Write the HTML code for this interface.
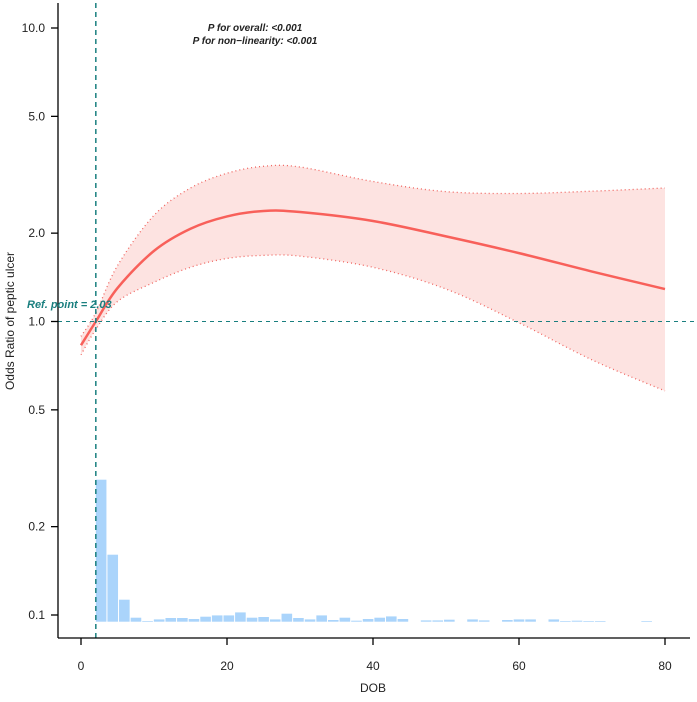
<!DOCTYPE html>
<html><head><meta charset="utf-8"><style>
body{margin:0;background:#fff}
svg text{font-family:"Liberation Sans",sans-serif}
</style></head><body>
<svg id="c" width="697" height="697" viewBox="0 0 697 697" xmlns="http://www.w3.org/2000/svg"></svg>
<script>
const xTicks=[0,20,40,60,80];
const yTicks=[0.1,0.2,0.5,1.0,2.0,5.0,10.0];
const yTickLabels=["0.1","0.2","0.5","1.0","2.0","5.0","10.0"];
const curveX=[0,2.03,5,10,15,20,25,30,40,50,60,70,80];
const curveOR=[0.83,1.0,1.3,1.74,2.07,2.28,2.38,2.36,2.2,1.95,1.71,1.48,1.29];
const upperOR=[0.89,1.07,1.55,2.3,2.85,3.2,3.38,3.36,3.0,2.77,2.73,2.78,2.85];
const lowerOR=[0.77,0.94,1.17,1.36,1.53,1.64,1.68,1.67,1.53,1.29,0.99,0.74,0.58];
const histStart=2.03, histBin=1.59;
const histCounts=[142,67,22,4,0.7,2.3,3.7,3.7,2.7,5,6.3,6.3,9.3,4,4.7,2.3,8,3.7,2.3,6.3,1.7,4,1,2.7,4,5.3,2.7,0,1.3,1.3,2,0,2.3,1.3,0,1.7,2.3,2.3,0,2.3,0.7,1,0.7,0.7,0,0,0,0.7];
const refX=2.03, refOR=1.0;

const NS="http://www.w3.org/2000/svg";
const svg=document.getElementById('c');
const X=v=>81+v*7.3;
const Y=v=>615-293.5*(Math.log10(v)+1);
const baseY=621.7, histMaxPx=142;
function el(t,a,p){const e=document.createElementNS(NS,t);for(const k in a)e.setAttribute(k,a[k]);(p||svg).appendChild(e);return e;}

const maxC=Math.max(...histCounts);
histCounts.forEach((c,i)=>{if(c<=0)return;const h=c/maxC*histMaxPx;
const r=el('rect',{x:X(histStart+i*histBin),y:baseY-h,width:histBin*7.3-1,height:h,fill:'#aad4fb'});

});

function pts(arr){return curveX.map((x,i)=>[X(x),Y(arr[i])]);}
function smooth(p){let d='M'+p[0][0]+','+p[0][1];for(let i=0;i<p.length-1;i++){const p0=p[i-1]||p[i],p1=p[i],p2=p[i+1],p3=p[i+2]||p2;
d+=' C'+(p1[0]+(p2[0]-p0[0])/6)+','+(p1[1]+(p2[1]-p0[1])/6)+' '+(p2[0]-(p3[0]-p1[0])/6)+','+(p2[1]-(p3[1]-p1[1])/6)+' '+p2[0]+','+p2[1];}return d;}
function smoothRev(p){return smooth(p.slice().reverse()).replace('M','L');}
const up=pts(upperOR), lo=pts(lowerOR), mid=pts(curveOR);
const band=el('path',{d:smooth(up)+' '+smoothRev(lo)+' Z',fill:'#fde3e1',stroke:'none'});


const u=el('path',{d:smooth(up),fill:'none',stroke:'#f06560','stroke-width':1.3,'stroke-dasharray':'1 3'});


const l=el('path',{d:smooth(lo),fill:'none',stroke:'#f06560','stroke-width':1.3,'stroke-dasharray':'1 3'});


const m=el('path',{d:smooth(mid),fill:'none',stroke:'#f8605a','stroke-width':2.5});



const rh=el('line',{x1:58,x2:697,y1:Y(refOR),y2:Y(refOR),stroke:'#1a7f7f','stroke-width':1,'stroke-dasharray':'4 4'});


const rv=el('line',{x1:X(refX),x2:X(refX),y1:3,y2:638,stroke:'#1a7f7f','stroke-width':1.5,'stroke-dasharray':'5 4'});



const g=el('g',{stroke:'#000','stroke-width':1.3});


el('line',{x1:58,x2:58,y1:3,y2:638},g);
el('line',{x1:58,x2:690,y1:638,y2:638},g);
xTicks.forEach(t=>{el('line',{x1:X(t),x2:X(t),y1:638,y2:645},g);
const tx=el('text',{x:X(t),y:670,'text-anchor':'middle','font-size':12,fill:'#222',stroke:'none'});tx.textContent=t;

});
yTicks.forEach((t,i)=>{el('line',{x1:51,x2:58,y1:Y(t),y2:Y(t)},g);
const tx=el('text',{x:45,y:Y(t)+4,'text-anchor':'end','font-size':12,fill:'#222',stroke:'none'});tx.textContent=yTickLabels[i];

});
</script>
<svg width="697" height="697" style="position:absolute;left:0;top:0">
<text x="373" y="692" text-anchor="middle" font-size="12" fill="#222" font-family="Liberation Sans">DOB</text>
<text transform="translate(14,321) rotate(-90)" text-anchor="middle" font-size="12" fill="#222" font-family="Liberation Sans">Odds Ratio of peptic ulcer</text>
<text x="255" y="31" text-anchor="middle" font-size="10" font-weight="bold" font-style="italic" fill="#222" font-family="Liberation Sans">P for overall: &lt;0.001</text>
<text x="255" y="44" text-anchor="middle" font-size="10" font-weight="bold" font-style="italic" fill="#222" font-family="Liberation Sans">P for non−linearity: &lt;0.001</text>
<text x="27" y="308" font-size="11" font-weight="bold" font-style="italic" fill="#1a7f7f" font-family="Liberation Sans">Ref. point = 2.03</text>
</svg>
</body></html>
